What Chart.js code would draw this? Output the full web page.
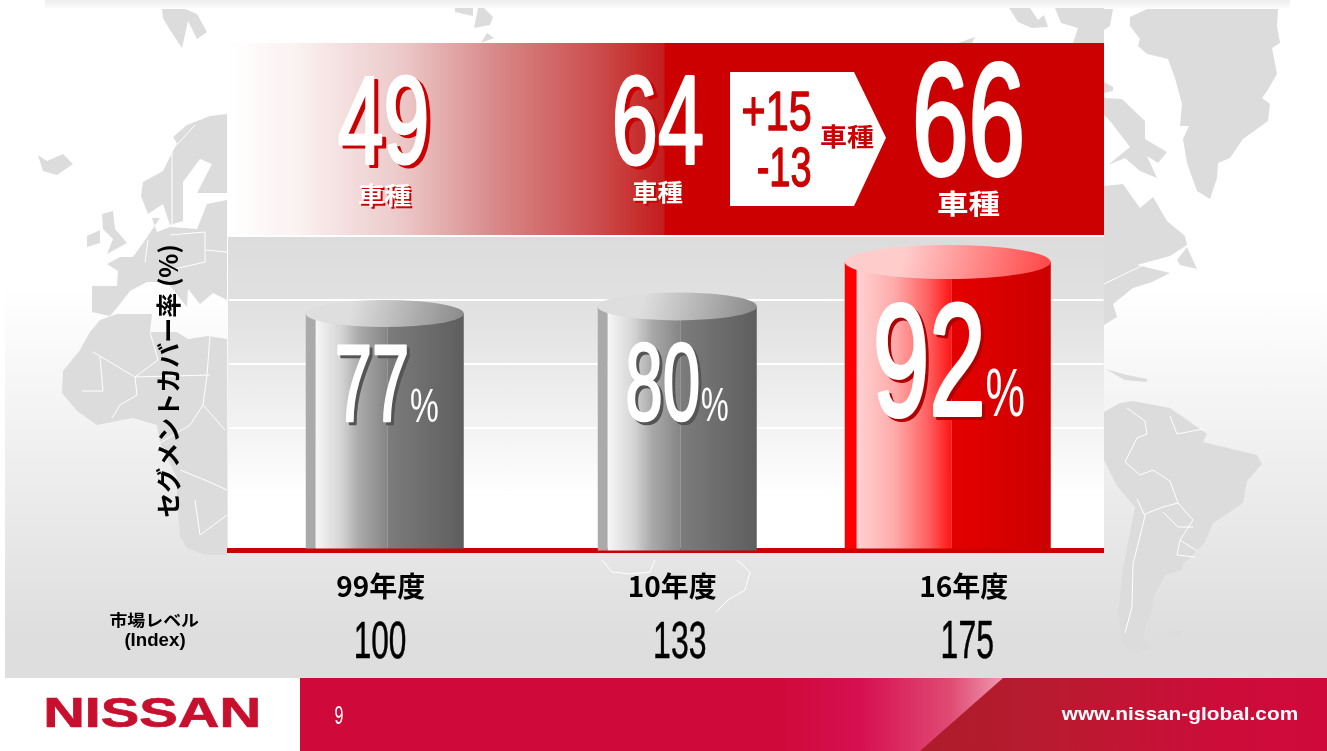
<!DOCTYPE html>
<html lang="ja">
<head>
<meta charset="utf-8">
<title>セグメントカバー率</title>
<script src="https://cdn.jsdelivr.net/npm/chart.js@4"></script>
<style>
  html, body { margin: 0; padding: 0; }
  body { width: 1327px; height: 751px; overflow: hidden; position: relative; background: #fff; }
  .layer { position: absolute; }
  #slidebg { left: 5px; top: 8px; width: 1322px; height: 670px; background: linear-gradient(180deg, #fff 0, #fff 280px, #dedede 630px, #dedede 670px); }
  #topstrip { left: 45px; top: 0; width: 1245px; height: 8px; background: linear-gradient(180deg, #eeeeee, #fbfbfb); }
  #map { left: 0; top: 0; }
  #whitebox { left: 227px; top: 43px; width: 877px; height: 194px; background: #fff; }
  #band { left: 228px; top: 43px; width: 876px; height: 192px;
    background: linear-gradient(90deg, #fff 0, #fbf1f1 70px, #ecc8c8 175px, #d98a8a 265px, #cc5050 365px, #c41c1c 436px, #cc0000 437px, #cc0000 100%); }
  #panel { left: 228px; top: 237px; width: 876px; height: 312px; background: linear-gradient(180deg, #dcdcdc 0, #e2e2e2 80px, #f3f3f3 190px, #fff 262px, #fff 100%); }
  #arrow { left: 730px; top: 72px; width: 156px; height: 134px; background: #fff; clip-path: polygon(0 0, 124px 0, 100% 49%, 124px 100%, 0 100%); }
  #footred { left: 300px; top: 678px; width: 1027px; height: 73px; background: linear-gradient(90deg, #cf0a3a 0, #cf0a3a 480px, #d60f52 560px, #e04a73 650px, #f0a3b7 710px, #f0a3b7 100%); }
  #footdark { left: 900px; top: 678px; width: 427px; height: 73px; clip-path: polygon(103px 0, 100% 0, 100% 100%, 20px 100%); background: linear-gradient(90deg, #ab1d2a 0, #ba1a30 160px, #cd0c3a 330px, #cf0a3a 100%); }
  canvas { position: absolute; left: 0; top: 0; }
</style>
</head>
<body>
<div class="layer" id="slidebg"></div>
<div class="layer" id="topstrip"></div>
<svg class="layer" id="map" width="1327" height="751" fill="#dcdcdc" stroke="none">
  <g>
    <!-- left side: Europe and Africa -->
    <polygon points="38,155 47,161 63,154 73,164 57,175 43,171"/>
    <polygon points="162,9 185,9 197,14 207,32 197,39 188,21 182,48 170,30 163,18"/>
    <polygon points="227,114 210,116 187,125 173,137 177,143 163,171 143,182 141,196 148,214 163,204 170,225 183,221 183,182 200,159 212,164 197,193 227,193"/>
    <polygon points="227,200 207,204 197,229 170,227 157,232 152,218 160,218 143,243 133,257 120,257 107,264 118,271 117,286 92,286 92,312 110,316 120,304 130,291 147,282 167,282 187,307 188,289 200,304 213,293 227,300"/>
    <polygon points="87,236 100,230 100,243 87,247"/>
    <polygon points="102,214 113,211 115,229 127,243 107,254 113,239 103,229"/>
    <polygon points="100,320 117,314 152,314 150,332 177,332 188,339 208,336 227,339 227,555 205,555 187,548 180,536 177,500 177,478 160,443 157,425 133,418 97,425 77,411 62,393 63,371 80,350 90,332"/>
    <!-- top middle -->
    <polygon points="455,8 473,8 473,16 455,12"/>
    <polygon points="478,8 484,8 493,17 490,25 474,28"/>
    <polygon points="487,33 494,38 481,43"/>
    <polygon points="1009,8 1030,8 1038,20 1044,15 1048,27 1032,28 1018,22"/>
    <polygon points="1055,8 1104,8 1104,43 1073,43 1078,28 1061,23"/>
    <polygon points="958,43 975,37 972,43"/>
    <!-- right side: Americas -->
    <polygon points="1130,17 1147,9 1278,9 1277,26 1280,43 1272,48 1277,74 1267,91 1262,98 1270,104 1268,121 1243,139 1230,158 1218,163 1217,178 1210,199 1197,191 1187,163 1183,139 1189,126 1180,126 1182,104 1175,78 1168,59 1147,54 1138,46 1140,39 1130,26"/>
    <polygon points="1104,9 1113,9 1110,26 1104,30"/>
    <polygon points="1104,82 1113,87 1113,91 1104,93"/>
    <polygon points="1104,98 1122,99 1145,121 1145,139 1167,152 1158,163 1147,156 1157,178 1140,171 1125,158 1108,165 1130,147 1110,121 1104,115"/>
    <polygon points="1104,186 1123,184 1140,208 1153,197 1167,221 1185,236 1187,245 1170,256 1137,265 1170,273 1152,282 1133,288 1113,304 1117,317 1104,325"/>
    <polygon points="1177,260 1187,247 1197,269 1180,265"/>
    <polygon points="1105,369 1127,375 1147,379 1147,382 1125,380"/>
    <polygon points="1104,412 1120,403 1133,401 1170,408 1207,434 1203,442 1257,455 1262,464 1247,481 1243,503 1227,514 1213,523 1205,542 1197,551 1183,564 1182,570 1165,575 1153,598 1152,611 1142,635 1153,648 1133,653 1123,642 1118,616 1123,568 1135,507 1117,486 1104,460"/>
    <polygon points="1168,632 1181,631 1181,636 1172,637"/>
  </g>
  <g fill="none" stroke="#fff" stroke-width="1">
    <polyline points="93,352 135,377 210,375"/>
    <polyline points="100,357 103,391 82,391"/>
    <polyline points="135,377 137,395 120,405 112,418"/>
    <polyline points="210,336 207,375 203,405 225,430"/>
    <polyline points="150,332 158,360 135,377"/>
    <polyline points="160,443 190,425 203,405"/>
    <polyline points="180,470 205,480 227,490"/>
    <polyline points="195,500 200,535 227,515"/>
    <polyline points="172,225 172,150 195,125"/>
    <polyline points="170,235 205,232 205,262 170,270"/>
    <polyline points="205,250 227,252"/>
    <polyline points="148,240 145,262"/>
    <polyline points="1127,408 1145,421 1147,434 1137,438 1125,462 1140,475 1153,470 1170,481 1178,503 1193,520 1180,540 1197,551"/>
    <polyline points="1137,499 1145,516 1133,564 1132,607 1125,633"/>
    <polyline points="1145,514 1163,507 1178,503"/>
    <polyline points="1163,512 1178,527 1193,527"/>
    <polyline points="1180,540 1177,555 1195,557"/>
    <polyline points="1170,416 1177,434 1203,429"/>
    <polyline points="1104,284 1133,270 1150,262"/>
    <polyline points="602,560 612,572 630,574 650,572 655,560"/>
    <polyline points="737,560 750,572 745,590 728,600 716,612"/>
  </g>
</svg>
<div class="layer" id="whitebox"></div>
<div class="layer" id="band"></div>
<div class="layer" id="panel"></div>
<div class="layer" id="arrow"></div>
<div class="layer" id="footred"></div>
<div class="layer" id="footdark"></div>
<canvas id="coverChart" width="1327" height="751"></canvas>

<script>
document.addEventListener("DOMContentLoaded", function () {

// chart data
const fiscalYears = ["99年度", "10年度", "16年度"];
const coverage = [77, 80, 92];
const marketLevels = [100, 133, 175];
const gridTicks = [20, 40, 60, 80];
const modelCounts = [49, 64, 66];
const modelAdded = "+15";
const modelDropped = "-13";
const modelUnit = "車種";
const axisTitle = "セグメントカバー率 (%)";

const cjk = '"Noto Sans CJK JP"';
const narrow = '"Liberation Sans Narrow", "Liberation Sans"';
const tallFont = "400 120px " + narrow;

// look of each cylinder, x offset from the category centre and width in px
const greyLook = {
  strip: "#aaaaaa",
  stops: [[0, "#f6f6f6"], [0.35, "#d5d5d5"], [0.6, "#aaaaaa"], [1, "#858585"]],
  dark: [[0, "#7c7c7c"], [1, "#5e5e5e"]],
  lid: ["#dedede", "#8e8e8e"]
};
const redLook = {
  strip: "#ff0000",
  stops: [[0, "#ffd2d2"], [0.4, "#ffaaaa"], [0.75, "#ff6060"], [1, "#ff1414"]],
  dark: [[0, "#e40000"], [1, "#cc0000"]],
  lid: ["#ffcccc", "#ff4c4c"]
};
const cylinders = [
  { dx: 10, w: 158, strip: 10, mid: 82, lift: 3.5, ry: 13.5, drop: -2, look: greyLook },
  { dx: 11, w: 159, strip: 10, mid: 83, lift: 6, ry: 14, drop: 0, look: greyLook },
  { dx: -10, w: 206, strip: 12, mid: 107, lift: 0, ry: 17, drop: -2, look: redLook }
];
const marketDx = [6, 14, 10];

// text boxes: [left, top, right, bottom]
const countBoxes = [[339, 75, 426, 164], [616, 74, 702, 165], [917, 60, 1021, 175]];
const unitBoxes = [[359, 183, 411, 207], [633, 180, 683, 204], [938, 191, 1000, 218]];
const valueBoxes = [[338, 345, 406, 421], [628, 343, 698, 421], [877, 302, 981, 416]];
const percentBoxes = [[411, 389, 438, 423], [702, 388, 728, 422], [987, 368, 1024, 417]];
const valueShadows = ["#555555", "#555555", "#b00000"];

// draws text stretched into a box, the source font has no tall condensed digits
function fitText(ctx, str, font, box, color, dx, dy, bolder) {
  ctx.save();
  ctx.font = font;
  ctx.textAlign = "left";
  ctx.textBaseline = "alphabetic";
  const m = ctx.measureText(str);
  const bw = m.actualBoundingBoxLeft + m.actualBoundingBoxRight;
  const bh = m.actualBoundingBoxAscent + m.actualBoundingBoxDescent;
  ctx.translate(box[0] + (dx || 0), box[1] + (dy || 0));
  ctx.scale((box[2] - box[0]) / bw, (box[3] - box[1]) / bh);
  ctx.fillStyle = color;
  ctx.fillText(str, m.actualBoundingBoxLeft, m.actualBoundingBoxAscent);
  if (bolder) {
    ctx.strokeStyle = color;
    ctx.lineWidth = bolder;
    ctx.lineJoin = "round";
    ctx.strokeText(str, m.actualBoundingBoxLeft, m.actualBoundingBoxAscent);
  }
  ctx.restore();
}

const cylinderPlugin = {
  id: "cylinders",
  afterDatasetsDraw(chart) {
    const ctx = chart.ctx;
    const bars = chart.getDatasetMeta(0).data;
    bars.forEach(function (bar, i) {
      const c = cylinders[i];
      const left = bar.x + c.dx - c.w / 2;
      const right = left + c.w;
      const top = bar.y + c.lift;
      const bottom = chart.chartArea.bottom + c.drop; // axis min sits on the red line

      ctx.save();
      ctx.fillStyle = c.look.strip;
      ctx.fillRect(left, top, c.strip, bottom - top);

      const light = ctx.createLinearGradient(left + c.strip, 0, left + c.mid, 0);
      c.look.stops.forEach(function (s) { light.addColorStop(s[0], s[1]); });
      ctx.fillStyle = light;
      ctx.fillRect(left + c.strip, top, c.mid - c.strip, bottom - top);

      const dark = ctx.createLinearGradient(left + c.mid, 0, right, 0);
      c.look.dark.forEach(function (s) { dark.addColorStop(s[0], s[1]); });
      ctx.fillStyle = dark;
      ctx.fillRect(left + c.mid, top, right - left - c.mid, bottom - top);

      // the lid
      const lid = ctx.createLinearGradient(left + c.w * 0.3, top - c.ry, right - c.w * 0.05, top + c.ry);
      lid.addColorStop(0, c.look.lid[0]);
      lid.addColorStop(1, c.look.lid[1]);
      ctx.fillStyle = lid;
      ctx.beginPath();
      ctx.ellipse(bar.x + c.dx, top, c.w / 2, c.ry, 0, 0, Math.PI * 2);
      ctx.fill();
      ctx.restore();
    });
  },
  afterDraw(chart) {
    const ctx = chart.ctx;
    const xScale = chart.scales.x;

    // values on the cylinders
    coverage.forEach(function (v, i) {
      fitText(ctx, String(v), tallFont, valueBoxes[i], valueShadows[i], 3, 3, 3);
      fitText(ctx, String(v), tallFont, valueBoxes[i], "#ffffff", 0, 0, 3);
      fitText(ctx, "%", "400 60px " + narrow, percentBoxes[i], "#ffffff");
    });

    // model counts in the band
    modelCounts.forEach(function (v, i) {
      if (i < 2) fitText(ctx, String(v), tallFont, countBoxes[i], "#cc0000", 4, 3, 3);
      fitText(ctx, String(v), tallFont, countBoxes[i], "#ffffff", 0, 0, 3);
      if (i < 2) fitText(ctx, modelUnit, "700 30px " + cjk, unitBoxes[i], "#cc0000", 2, 2);
      fitText(ctx, modelUnit, "700 30px " + cjk, unitBoxes[i], "#ffffff");
    });

    // arrow text
    fitText(ctx, modelAdded, "400 60px " + narrow, [743, 92, 810, 131], "#cc0000", 0, 0, 1.5);
    fitText(ctx, modelDropped, "400 60px " + narrow, [758, 147, 810, 187], "#cc0000", 0, 0, 1.5);
    fitText(ctx, modelUnit, "700 30px " + cjk, [821, 124, 874, 149], "#cc0000");

    // market level row
    marketLevels.forEach(function (v, i) {
      const cx = xScale.getPixelForValue(i) + marketDx[i];
      fitText(ctx, String(v), "400 60px " + narrow, [cx - 25, 622, cx + 25, 659], "#000000", 0, 0, 0.6);
    });
    fitText(ctx, "市場レベル", "700 30px " + cjk, [110, 612, 199, 628], "#000000");
    fitText(ctx, "(Index)", "700 30px \"Liberation Sans\"", [125, 632, 185, 650], "#000000");

    // footer
    fitText(ctx, "NISSAN", "700 60px \"Liberation Sans\"", [47, 698, 258, 728], "#c8102e", 0, 0, 1);
    fitText(ctx, "9", "400 40px " + narrow, [335, 706, 343, 724], "#ffffff");
    fitText(ctx, "www.nissan-global.com", "700 30px \"Liberation Sans\"", [1061, 706, 1297, 724], "#ffffff");
  }
};

const ctx = document.getElementById("coverChart").getContext("2d");

const coverChart = new Chart(ctx, {
  type: "bar",
  data: {
    labels: fiscalYears,
    datasets: [{
      label: axisTitle,
      data: coverage,
      backgroundColor: "rgba(0,0,0,0)",
      categoryPercentage: 0.6,
      barPercentage: 1
    }]
  },
  options: {
    responsive: false,
    animation: false,
    layout: { padding: { left: 153, top: 236.4, right: 223.5, bottom: 142 } },
    plugins: { legend: { display: false }, tooltip: { enabled: false } },
    scales: {
      x: {
        z: 1,
        afterFit(scale) { scale.height = 58.5; },
        grid: { display: false, drawTicks: false },
        border: { display: true, color: "#cc0000", width: 5 },
        ticks: {
          color: "#000000",
          padding: 19,
          labelOffset: 6,
          maxRotation: 0,
          font: { family: "Noto Sans CJK JP", weight: "700", size: 28 }
        }
      },
      y: {
        min: 1.84,
        max: 100,
        afterFit(scale) { scale.width = 76; },
        afterBuildTicks(scale) { scale.ticks = gridTicks.map(function (v) { return { value: v }; }); },
        grid: { color: "#ffffff", lineWidth: 2, drawTicks: false },
        border: { display: false },
        ticks: { display: false },
        title: {
          display: true,
          text: "\u3000" + axisTitle,
          color: "#000000",
          align: "center",
          padding: 0,
          font: { family: "Noto Sans CJK JP", weight: "700", size: 25 }
        }
      }
    }
  },
  plugins: [cylinderPlugin]
});

});
</script>
</body>
</html>
